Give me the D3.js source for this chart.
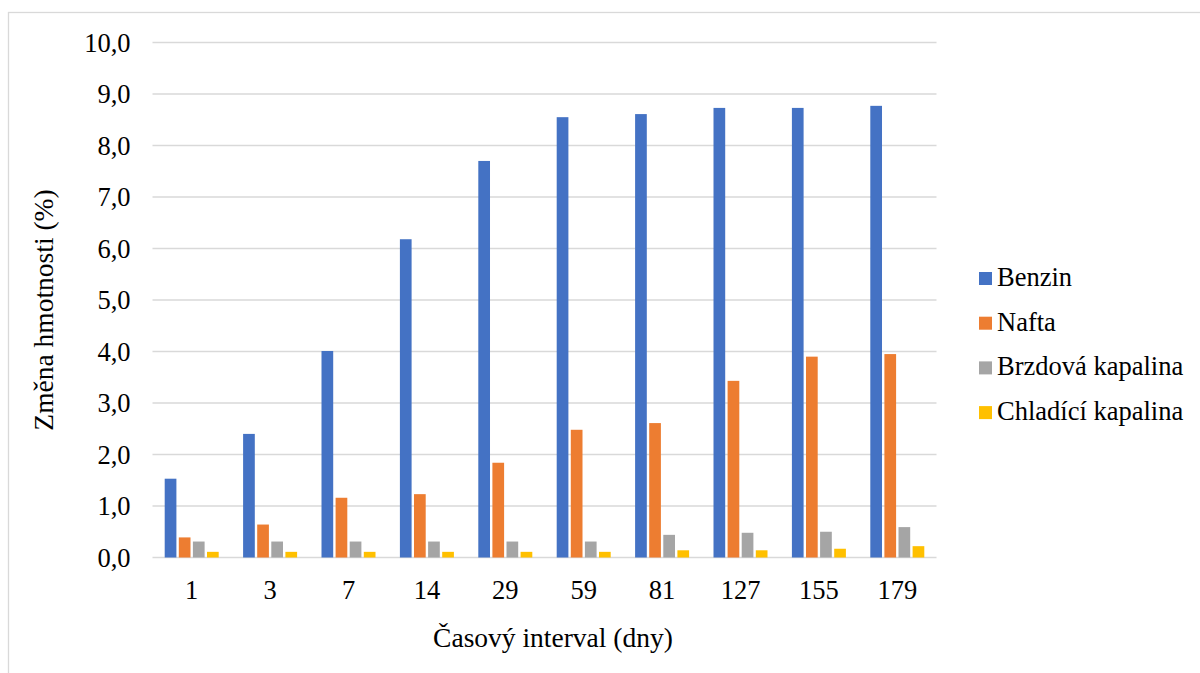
<!DOCTYPE html>
<html>
<head>
<meta charset="utf-8">
<script src="https://cdn.jsdelivr.net/npm/d3@7"></script>
<style>
  html, body { margin: 0; padding: 0; background: #fff; }
</style>
</head>
<body>
<svg id="chart" width="1200" height="673"></svg>
<script>
const categories = ["1", "3", "7", "14", "29", "59", "81", "127", "155", "179"];
const seriesNames = ["Benzin", "Nafta", "Brzdová kapalina", "Chladící kapalina"];
const benzin = [1.53, 2.40, 4.01, 6.18, 7.70, 8.55, 8.61, 8.73, 8.73, 8.77];
const nafta = [0.39, 0.64, 1.16, 1.23, 1.84, 2.48, 2.61, 3.43, 3.90, 3.95];
const brzdova = [0.31, 0.31, 0.31, 0.31, 0.31, 0.31, 0.44, 0.48, 0.50, 0.59];
const chladici = [0.11, 0.11, 0.11, 0.11, 0.11, 0.11, 0.14, 0.14, 0.17, 0.22];
const yTicks = [0, 1, 2, 3, 4, 5, 6, 7, 8, 9, 10];
const colors = ["#4472C4", "#ED7D31", "#A5A5A5", "#FFC000"];
const xTitle = "Časový interval (dny)";
const yTitle = "Změna hmotnosti (%)";

const FONT = "'Times New Roman', 'Liberation Serif', Tinos, 'DejaVu Serif', serif";
const seriesValues = [benzin, nafta, brzdova, chladici];
const svg = d3.select("#chart").attr("font-family", FONT);

// outer border
svg.append("rect").attr("x", 8.5).attr("y", 12.5).attr("width", 1300).attr("height", 800)
  .attr("fill", "none").attr("stroke", "#d9d9d9").attr("stroke-width", 1.3);

const plotLeft = 152.5, plotRight = 936.5, plotTop = 42.5, plotBottom = 557.5;
const x0 = d3.scaleBand().domain(categories).range([plotLeft, plotRight]).padding(0);
const groupW = 54;
const x1 = d3.scaleBand().domain(seriesNames).range([0, groupW]).paddingInner(0.17).paddingOuter(0);
const y = d3.scaleLinear().domain([0, 10]).range([plotBottom, plotTop]);
const fmt = v => d3.format(".1f")(v).replace(".", ",");

// gridlines
svg.append("g").selectAll("line").data(yTicks).join("line")
  .attr("x1", plotLeft).attr("x2", plotRight)
  .attr("y1", d => y(d)).attr("y2", d => y(d))
  .attr("stroke", "#d9d9d9").attr("stroke-width", 1.5);

// y axis labels
const yAxis = d3.axisLeft(y).tickValues(yTicks).tickFormat(fmt).tickSize(0).tickPadding(22);
const gy = svg.append("g").attr("transform", `translate(${plotLeft},0)`).call(yAxis)
  .attr("font-family", FONT).attr("font-size", "26.5px");
gy.select(".domain").remove();
gy.selectAll("text").attr("font-family", FONT).attr("fill", "#000").attr("dy", "0.33em");

// x axis labels
const xAxis = d3.axisBottom(x0).tickSize(0).tickPadding(0);
const gx = svg.append("g").attr("transform", `translate(0,${plotBottom})`).call(xAxis)
  .attr("font-family", FONT).attr("font-size", "26.5px");
gx.select(".domain").remove();
gx.selectAll("text").attr("font-family", FONT).attr("fill", "#000").attr("dy", null).attr("y", 41.5);

// bars
const rows = categories.map((c, i) => ({ cat: c, vals: seriesNames.map((s, j) => ({ s, j, v: seriesValues[j][i] })) }));
const off = (x0.bandwidth() - groupW) / 2;
svg.append("g").selectAll("g").data(rows).join("g")
  .attr("transform", d => `translate(${x0(d.cat) + off},0)`)
  .selectAll("rect").data(d => d.vals).join("rect")
  .attr("x", d => x1(d.s)).attr("width", x1.bandwidth())
  .attr("y", d => y(d.v)).attr("height", d => y(0) - y(d.v))
  .attr("fill", d => colors[d.j]);

// axis titles
svg.append("text").attr("x", 553).attr("y", 647).attr("text-anchor", "middle")
  .attr("font-family", FONT).attr("font-size", "27.5px").attr("fill", "#000").text(xTitle);
svg.append("text").attr("transform", "translate(53,310) rotate(-90)").attr("text-anchor", "middle")
  .attr("font-family", FONT).attr("font-size", "27.5px").attr("fill", "#000").text(yTitle);

// legend
const lg = svg.append("g").selectAll("g").data(seriesNames).join("g")
  .attr("transform", (d, i) => `translate(979,${286 + i * 44.7})`);
lg.append("rect").attr("x", 0).attr("y", -14).attr("width", 13).attr("height", 13).attr("fill", (d, i) => colors[i]);
lg.append("text").attr("x", 18).attr("y", 0).attr("font-family", FONT).attr("font-size", "26.5px")
  .attr("fill", "#000").text(d => d);
</script>
</body>
</html>
